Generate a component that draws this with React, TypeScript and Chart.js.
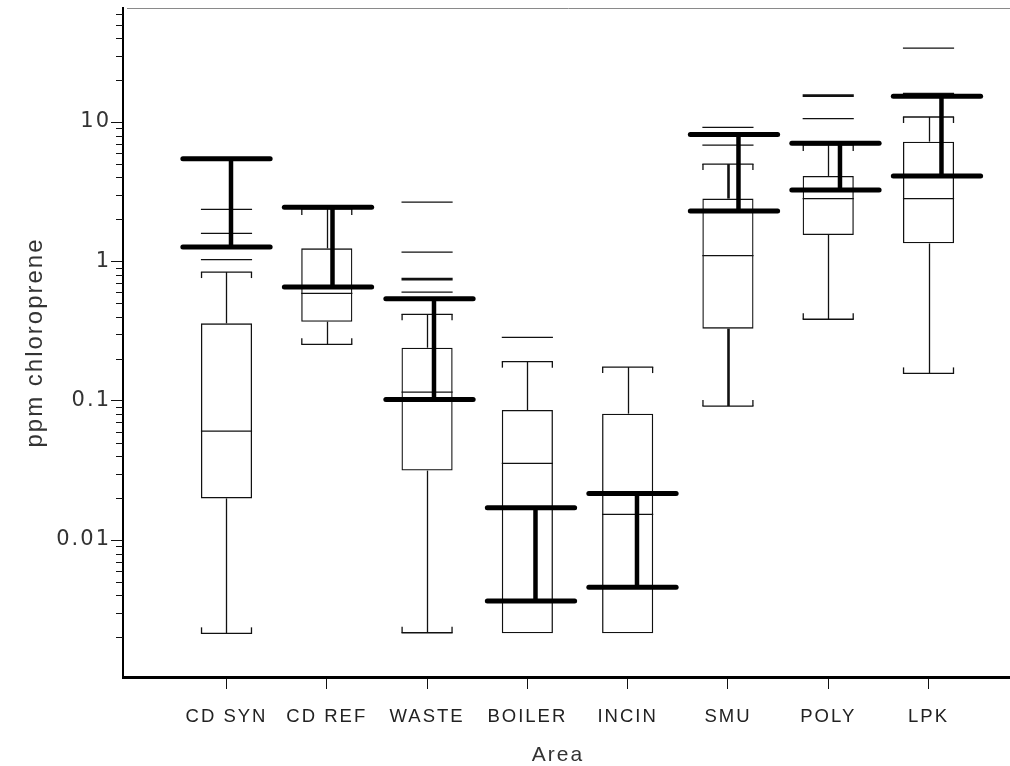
import React, { useEffect, useRef } from 'react';
import { Chart, registerables } from 'chart.js';

Chart.register(...registerables);

// ---- data ----
const categories = ['CD SYN', 'CD REF', 'WASTE', 'BOILER', 'INCIN', 'SMU', 'POLY', 'LPK'];
const whiskerLow: (number | null)[] = [0.00214, 0.254, 0.00216, null, null, 0.0915, 0.384, 0.157];
const q1 = [0.0199, 0.369, 0.0315, 0.00214, 0.00214, 0.329, 1.545, 1.346];
const median = [0.0605, 0.589, 0.1153, 0.0355, 0.0153, 1.1, 2.82, 2.82];
const q3 = [0.359, 1.24, 0.24, 0.0857, 0.0807, 2.82, 4.1, 7.23];
const whiskerHigh = [0.838, 2.38, 0.417, 0.1906, 0.1743, 4.99, 6.85, 10.86];
const extremesThin: number[][] = [[1.03, 1.59, 2.36], [], [0.602, 1.166, 2.66], [0.285], [], [6.83, 9.16], [10.57], [16.06, 33.9]];
const extremesBold: number[][] = [[], [], [0.746], [], [], [], [15.46], []];
const ciLow = [1.27, 0.654, 0.1022, 0.00365, 0.00459, 2.3, 3.25, 4.1];
const ciHigh = [5.46, 2.44, 0.54, 0.01707, 0.0216, 8.12, 7.05, 15.28];
const yTicks = [0.01, 0.1, 1, 10];
const boldWhiskerCats = ['SMU'];

// ---- style ----
const INK = '#111';
const FONT = "'Liberation Sans', Arial, sans-serif";
const TICK_FONT = "'DejaVu Sans', 'Liberation Sans', sans-serif";
const BOX_FRACTION = 0.51;
const CI_HALF = 0.43;
const CI_STEM_SHIFT = 4.5;
const CAP_TICK = 6;
const RIGHT_GAP = 17;
const X_BORDER = 3;

const spacingPlugin = {
  id: 'letterSpacing',
  beforeUpdate(chart: any) {
    try {
      (chart.ctx as any).letterSpacing = '2px';
    } catch (e) {
      /* ignore */
    }
  },
  beforeDraw(chart: any) {
    try {
      (chart.ctx as any).letterSpacing = '2px';
    } catch (e) {
      /* ignore */
    }
  },
};

const extrasPlugin = {
  id: 'boxExtras',
  afterDatasetsDraw(chart: any) {
    const { ctx, chartArea } = chart;
    const x = chart.scales.x;
    const xc = chart.scales.xci;
    const y = chart.scales.y;
    ctx.save();
    const line = (x1: number, y1: number, x2: number, y2: number, w: number, cap: CanvasLineCap = 'butt', color = INK) => {
      ctx.beginPath();
      ctx.lineWidth = w;
      ctx.lineCap = cap;
      ctx.strokeStyle = color;
      ctx.moveTo(x1, y1);
      ctx.lineTo(x2, y2);
      ctx.stroke();
    };
    const half = BOX_FRACTION / 2;
    categories.forEach((cat, i) => {
      const v = i + 1;
      const cx = Math.round(x.getPixelForValue(v)) + 0.5;
      const l = x.getPixelForValue(v - half);
      const r = x.getPixelForValue(v + half);
      const ww = boldWhiskerCats.includes(cat) ? 2.6 : 1.3;
      // upper whisker
      const yq3 = y.getPixelForValue(q3[i]);
      const yh = y.getPixelForValue(whiskerHigh[i]);
      line(cx, yq3, cx, yh, ww);
      line(l, yh, r, yh, 1.3);
      line(l + 0.6, yh, l + 0.6, yh + CAP_TICK, 1.3);
      line(r - 0.6, yh, r - 0.6, yh + CAP_TICK, 1.3);
      // lower whisker
      const lo = whiskerLow[i];
      if (lo != null) {
        const yq1 = y.getPixelForValue(q1[i]);
        const yl = y.getPixelForValue(lo);
        line(cx, yq1, cx, yl, ww);
        line(l, yl, r, yl, 1.3);
        line(l + 0.6, yl, l + 0.6, yl - CAP_TICK, 1.3);
        line(r - 0.6, yl, r - 0.6, yl - CAP_TICK, 1.3);
      }
      // median
      const ym = y.getPixelForValue(median[i]);
      line(l, ym, r, ym, 1.3);
      extremesThin[i].forEach((e) => {
        const ye = y.getPixelForValue(e);
        line(l, ye, r, ye, 1.3);
      });
      extremesBold[i].forEach((e) => {
        const ye = y.getPixelForValue(e);
        line(l, ye, r, ye, 2.6);
      });
    });
    // thick interval bars
    categories.forEach((_, i) => {
      const v = i + 1;
      const cx = xc.getPixelForValue(v);
      const l = xc.getPixelForValue(v - CI_HALF);
      const r = xc.getPixelForValue(v + CI_HALF);
      const yl = y.getPixelForValue(ciLow[i]);
      const yh = y.getPixelForValue(ciHigh[i]);
      line(cx + CI_STEM_SHIFT, yl, cx + CI_STEM_SHIFT, yh, 4.5, 'butt', '#000');
      line(l, yh, r, yh, 5, 'round', '#000');
      line(l, yl, r, yl, 5, 'round', '#000');
    });
    // minor log ticks on y axis
    const left = chartArea.left;
    for (let k = -3; k <= 1; k++) {
      for (let m = 2; m <= 9; m++) {
        const val = m * Math.pow(10, k);
        if (val < y.min || val > y.max) continue;
        const py = Math.round(y.getPixelForValue(val)) + 0.5;
        line(left - 7, py, left, py, 1);
      }
    }
    // frame lines running to the canvas edge
    const top = Math.round(chartArea.top) + 0.5;
    line(left + 4, top, chart.width, top, 1, 'butt', '#8a8a8a');
    const hb = X_BORDER / 2;
    const by = Math.round(chartArea.bottom - hb) + hb;
    line(chartArea.right - 4, by, chart.width, by, X_BORDER, 'butt', '#000');
    ctx.restore();
  },
};

export default function App() {
  const ref = useRef<HTMLCanvasElement | null>(null);
  useEffect(() => {
    if (!ref.current) return;
    const chart = new Chart(ref.current, {
      type: 'bar',
      data: {
        datasets: [
          {
            label: 'box',
            data: categories.map((_, i) => ({ x: i + 1, y: [q1[i], q3[i]] })) as any,
            backgroundColor: 'rgba(0,0,0,0)',
            borderColor: INK,
            borderWidth: 1.3,
            borderSkipped: false,
            categoryPercentage: 1,
            barPercentage: BOX_FRACTION,
            xAxisID: 'x',
            yAxisID: 'y',
          } as any,
        ],
      },
      options: {
        responsive: false,
        animation: false,
        events: [],
        layout: { padding: { top: 8, left: 0, right: RIGHT_GAP, bottom: 0 } },
        plugins: { legend: { display: false }, tooltip: { enabled: false } },
        scales: {
          x: {
            type: 'linear',
            position: 'bottom',
            min: -0.032,
            max: 8.643,
            offset: false,
            grid: { display: true, drawOnChartArea: false, drawTicks: true, tickLength: 12, color: INK, lineWidth: 1, offset: false },
            border: { display: true, color: '#000', width: X_BORDER },
            afterBuildTicks: (s: any) => {
              s.ticks = categories.map((_, i) => ({ value: i + 1 }));
            },
            ticks: {
              autoSkip: false,
              maxRotation: 0,
              padding: 17,
              color: '#222',
              font: { family: FONT, size: 18.5 },
              callback: (v: any) => categories[Math.round(Number(v)) - 1] ?? '',
            },
            title: { display: true, text: 'Area', color: '#333', font: { family: FONT, size: 21 }, padding: { top: 0, bottom: -2 } },
            afterFit: (s: any) => {
              s.height = 89;
              s.paddingLeft = 0;
              s.paddingRight = 0;
            },
          } as any,
          xci: {
            type: 'linear',
            display: false,
            offset: false,
            grid: { offset: false },
            min: -0.0197,
            max: 8.552,
          } as any,
          y: {
            type: 'logarithmic',
            position: 'left',
            min: 0.00104,
            max: 65.8,
            grid: { display: true, drawOnChartArea: false, drawTicks: true, tickLength: 12, color: INK, lineWidth: 1 },
            border: { display: true, color: '#000', width: 2 },
            afterBuildTicks: (s: any) => {
              s.ticks = yTicks.map((v) => ({ value: v }));
            },
            ticks: {
              padding: 0,
              color: '#333',
              font: { family: TICK_FONT, size: 21 },
              callback: (v: any) => String(v),
            },
            title: { display: true, text: 'ppm chloroprene', color: '#333', font: { family: FONT, size: 24 }, padding: { top: 21, bottom: 0 } },
            afterFit: (s: any) => {
              s.width = 123;
              s.paddingTop = 0;
              s.paddingBottom = 0;
            },
          } as any,
        },
      },
      plugins: [spacingPlugin, extrasPlugin],
    });
    return () => chart.destroy();
  }, []);
  return (
    <div style={{ position: 'absolute', left: 0, top: 0, width: 1010, height: 766, background: '#fff' }}>
      <canvas ref={ref} width={1010} height={766} style={{ display: 'block' }} />
    </div>
  );
}
